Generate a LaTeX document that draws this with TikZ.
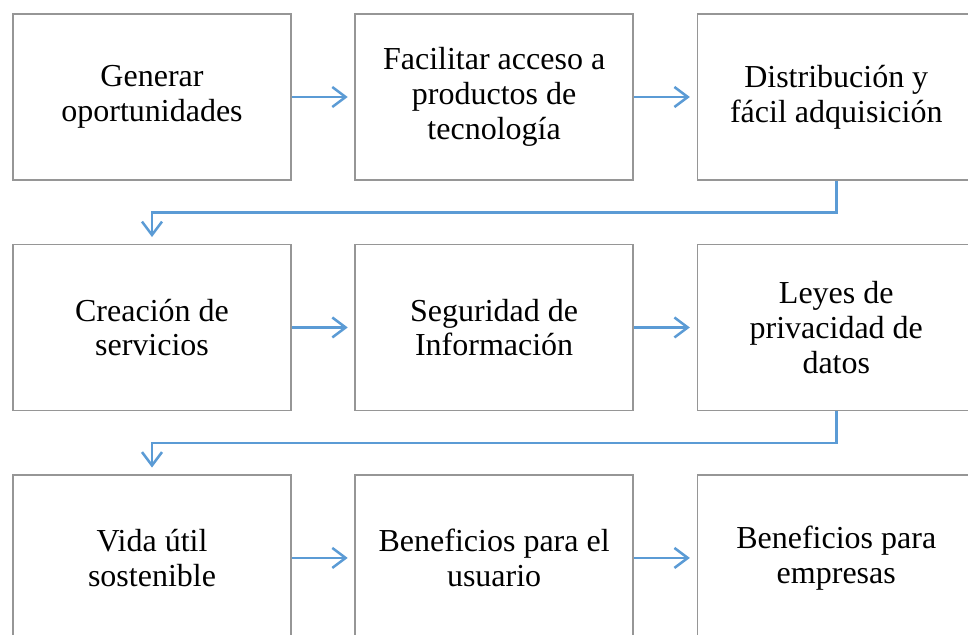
\documentclass[tikz,border=0pt]{standalone}
\usepackage{fontspec}
\setmainfont{Liberation Serif}
\usetikzlibrary{arrows.meta,positioning}

\definecolor{boxgray}{RGB}{150,150,150}
\definecolor{lineblue}{RGB}{91,155,213}

\tikzset{
  paso/.style={rectangle, draw=boxgray, line width=1.1pt,
    minimum width=208.5pt, minimum height=124.5pt, inner sep=0pt,
    align=center, font=\fontsize{24}{26}\selectfont},
  flecha/.style={draw=lineblue, line width=1.9pt,
    -{Straight Barb[length=10pt,width=15pt]}, shorten >=5pt}
}

\begin{document}
\begin{tikzpicture}[node distance=47.25pt and 47pt]
  \useasboundingbox (0,0) rectangle (726pt,-476.25pt);

  % fila 1
  \node[paso] (gen) at (114.0pt,-72.75pt) {Generar\\oportunidades};
  \node[paso, right=of gen] (acc) {Facilitar acceso a\\productos de\\tecnología};
  \node[paso, right=of acc] (dis) {Distribución y\\fácil adquisición};

  % fila 2
  \node[paso, below=of gen] (ser) {Creación de\\servicios};
  \node[paso, right=of ser] (seg) {Seguridad de\\Información};
  \node[paso, right=of seg] (ley) {Leyes de\\privacidad de\\datos};

  % fila 3
  \node[paso, below=of ser] (vid) {Vida útil\\sostenible};
  \node[paso, right=of vid] (usu) {Beneficios para el\\usuario};
  \node[paso, right=of usu] (emp) {Beneficios para\\empresas};

  % conectores
  \draw[flecha] (gen) -- (acc);
  \draw[flecha] (acc) -- (dis);
  \draw[flecha] (dis.south) -- ++(0,-24pt) -| (ser.north);
  \draw[flecha] (ser) -- (seg);
  \draw[flecha] (seg) -- (ley);
  \draw[flecha] (ley.south) -- ++(0,-24pt) -| (vid.north);
  \draw[flecha] (vid) -- (usu);
  \draw[flecha] (usu) -- (emp);
\end{tikzpicture}
\end{document}
